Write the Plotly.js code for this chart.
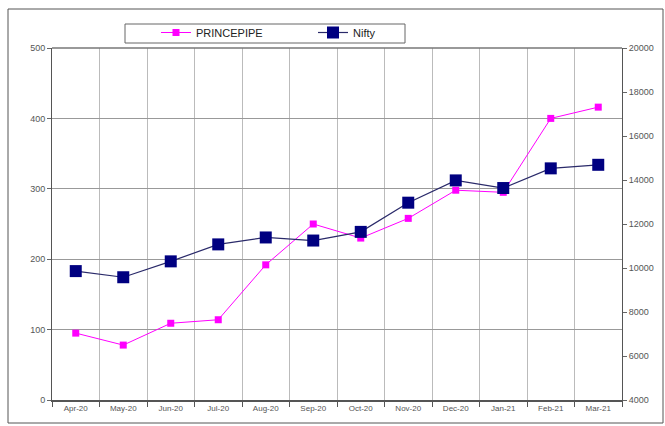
<!DOCTYPE html>
<html>
<head>
<meta charset="utf-8">
<script src="https://cdn.plot.ly/plotly-3.0.1.min.js"></script>
<style>html,body{margin:0;padding:0;background:#fff;}#chart{width:665px;height:426px;}</style>
</head>
<body>
<div id="chart"></div>
<script>
const months = ["Apr-20","May-20","Jun-20","Jul-20","Aug-20","Sep-20","Oct-20","Nov-20","Dec-20","Jan-21","Feb-21","Mar-21"];
const princepipe = [95, 78, 109, 114, 192, 250, 230, 258, 298, 295, 400, 416];
const nifty = [9859, 9580, 10302, 11073, 11388, 11248, 11642, 12969, 13982, 13635, 14529, 14691];

const W = 665, H = 426, L = 52, R = 43, T = 48, B = 26;
const pw = W - L - R, ph = H - T - B;
const px = v => (v - L) / pw;
const py = v => (H - B - v) / ph;

const traces = [
  {x: months, y: princepipe, name: "PRINCEPIPE", type: "scatter", mode: "lines+markers",
   line: {color: "#FF00FF", width: 1}, marker: {symbol: "square", size: 7, color: "#FF00FF"}, yaxis: "y"},
  {x: months, y: nifty, name: "Nifty", type: "scatter", mode: "lines+markers",
   line: {color: "#2a2a6a", width: 1.2}, marker: {symbol: "square", size: 12, color: "#000080"}, yaxis: "y2"}
];

const ff = "Liberation Sans, Arial, sans-serif";
const layout = {
  width: W, height: H,
  margin: {l: L, r: R, t: T, b: B},
  paper_bgcolor: "#fff", plot_bgcolor: "#fff",
  font: {family: ff, size: 9, color: "#555"},
  showlegend: true,
  legend: {orientation: "h", x: px(156), y: py(18), xanchor: "left", yanchor: "top",
    borderwidth: 0, bgcolor: "rgba(0,0,0,0)",
    font: {family: ff, size: 11, color: "#222"},
    entrywidth: 112, itemwidth: 30, tracegroupgap: 0},
  xaxis: {type: "category", range: [-0.5, 11.5], tickson: "boundaries", showgrid: true, gridcolor: "#bbb", gridwidth: 1,
    showline: true, linecolor: "#555", linewidth: 1.5, ticks: "outside", ticklen: 5, tickcolor: "#555",
    tickfont: {family: ff, size: 8, color: "#555"}, fixedrange: true},
  yaxis: {range: [0, 500], dtick: 100, showgrid: true, gridcolor: "#999", gridwidth: 1.3,
    showline: true, linecolor: "#555", linewidth: 1, ticks: "outside", ticklen: 4, tickcolor: "#666",
    zeroline: false, tickfont: {family: ff, size: 9, color: "#555"}},
  yaxis2: {range: [4000, 20000], dtick: 2000, tickformat: "d", overlaying: "y", side: "right", showgrid: false,
    showline: true, linecolor: "#555", linewidth: 1, ticks: "outside", ticklen: 4, tickcolor: "#666",
    zeroline: false, tickfont: {family: ff, size: 9, color: "#555"}},
  shapes: [
    {type: "rect", xref: "paper", yref: "paper", x0: px(8), x1: px(663), y0: py(423), y1: py(9),
     line: {color: "#555", width: 1}, fillcolor: "rgba(0,0,0,0)", layer: "below"},
    {type: "rect", xref: "paper", yref: "paper", x0: px(125), x1: px(405), y0: py(43), y1: py(24),
     line: {color: "#666", width: 1}, fillcolor: "#fff", layer: "below"},
    {type: "line", xref: "paper", yref: "paper", x0: 0, x1: 1, y0: 1, y1: 1, line: {color: "#777", width: 1.3}}
  ]
};
Plotly.newPlot("chart", traces, layout, {displayModeBar: false, staticPlot: true});
</script>
</body>
</html>
